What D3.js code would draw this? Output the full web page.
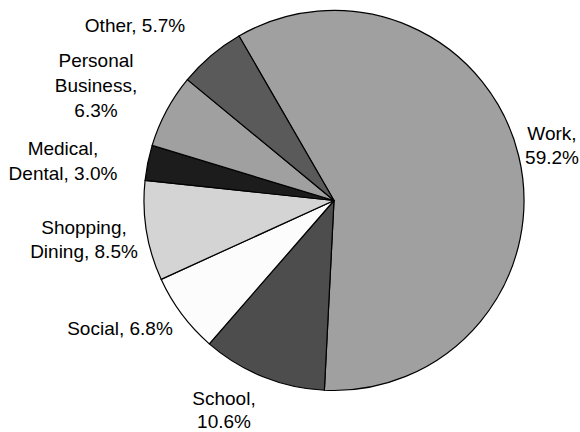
<!DOCTYPE html>
<html>
<head>
<meta charset="utf-8">
<script src="https://cdn.jsdelivr.net/npm/d3@7"></script>
<style>
  html, body { margin: 0; padding: 0; background: #fff; }
  svg { display: block; }
  text { font-family: "Liberation Sans", Arial, sans-serif; font-size: 19px; fill: #000; }
</style>
</head>
<body>
<svg id="chart" width="580" height="432"></svg>
<script>
// Trip purpose shares (percent), in clockwise order starting from Work
const categories = ["Work", "School", "Social", "Shopping, Dining", "Medical, Dental", "Personal Business", "Other"];
const shares = [59.2, 10.6, 6.8, 8.5, 3.0, 6.3, 5.7];
const fills = ["#a0a0a0", "#4d4d4d", "#fcfcfc", "#d4d4d4", "#1c1c1c", "#a0a0a0", "#5a5a5a"];

// Label text lines for each slice
const labelLines = [
  ["Work,", "59.2%"],
  ["School,", "10.6%"],
  ["Social, 6.8%"],
  ["Shopping,", "Dining, 8.5%"],
  ["Medical,", "Dental, 3.0%"],
  ["Personal", "Business,", "6.3%"],
  ["Other, 5.7%"]
];
// Label anchor points (centre x, first baseline y, line gap)
const labelPos = [
  [552, 140, 24], [224, 405, 23], [120, 335, 24], [84, 234, 24], [63, 155, 24.5], [96, 67, 25], [135, 32, 24]
];

const cx = 334, cy = 200.5, radius = 190;
const startDeg = -30;

const svg = d3.select("#chart");
const g = svg.append("g").attr("transform", `translate(${cx},${cy})`);

const pie = d3.pie()
  .sort(null)
  .value(d => d)
  .startAngle(startDeg * Math.PI / 180)
  .endAngle(startDeg * Math.PI / 180 + 2 * Math.PI);

const arc = d3.arc().innerRadius(0).outerRadius(radius);

g.selectAll("path.slice")
  .data(pie(shares))
  .join("path")
  .attr("class", "slice")
  .attr("d", arc)
  .attr("fill", (d, i) => fills[i])
  .attr("stroke", "#000")
  .attr("stroke-width", 1.2)
  .attr("stroke-linejoin", "round");

const labels = svg.selectAll("text.lbl")
  .data(labelLines)
  .join("text")
  .attr("class", "lbl")
  .attr("text-anchor", "middle")
  .attr("x", (d, i) => labelPos[i][0])
  .attr("y", (d, i) => labelPos[i][1]);

labels.selectAll("tspan")
  .data((d, i) => d.map((s, j) => ({ s, j, i })))
  .join("tspan")
  .attr("x", d => labelPos[d.i][0])
  .attr("dy", d => d.j === 0 ? 0 : labelPos[d.i][2])
  .text(d => d.s);
</script>
</body>
</html>
